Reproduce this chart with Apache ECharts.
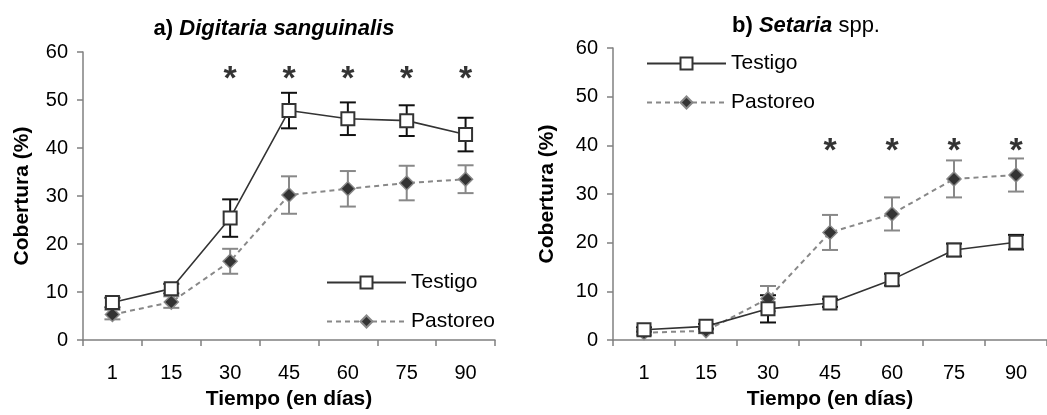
<!DOCTYPE html>
<html>
<head>
<meta charset="utf-8">
<script src="https://cdn.jsdelivr.net/npm/echarts@6/dist/echarts.min.js"></script>
<style>
html,body{margin:0;padding:0;background:#fff;}
#c{width:1047px;height:415px;}
</style>
</head>
<body>
<div id="c"></div>
<script>
// ---- data ----
const categories = ['1', '15', '30', '45', '60', '75', '90'];
const yTicks = [0, 10, 20, 30, 40, 50, 60];

const testigoA    = [7.8, 10.7, 25.4, 47.8, 46.1, 45.7, 42.8];
const testigoAErr = [1.0, 1.0, 3.9, 3.7, 3.4, 3.2, 3.5];
const pastoreoA    = [5.3, 7.9, 16.4, 30.2, 31.5, 32.7, 33.5];
const pastoreoAErr = [1.0, 1.2, 2.6, 3.9, 3.7, 3.6, 2.9];

const testigoB    = [2.1, 2.8, 6.4, 7.6, 12.4, 18.5, 20.1];
const testigoBErr = [0.5, 0.5, 2.8, 0.8, 1.2, 1.3, 1.5];
const pastoreoB    = [1.5, 1.9, 8.5, 22.1, 25.9, 33.1, 33.9];
const pastoreoBErr = [0.5, 0.5, 2.6, 3.6, 3.4, 3.8, 3.4];

const starsA = [null, null, 55.5, 55.5, 55.5, 55.5, 55.5];
const starsB = [null, null, null, 40, 40, 40, 40];

// ---- styles ----
const FONT = '"Liberation Sans", Arial, sans-serif';
const AXIS_GRAY = '#808080';

function errData(vals, errs) {
  return vals.map((v, i) => [i, v - errs[i], v + errs[i]]);
}
function errRender(color) {
  return function (params, api) {
    const i = api.value(0);
    const lo = api.coord([i, api.value(1)]);
    const hi = api.coord([i, api.value(2)]);
    const w = 8;
    const st = { stroke: color, lineWidth: 2 };
    return {
      type: 'group',
      children: [
        { type: 'line', shape: { x1: lo[0], y1: lo[1], x2: hi[0], y2: hi[1] }, style: st },
        { type: 'line', shape: { x1: lo[0] - w, y1: lo[1], x2: lo[0] + w, y2: lo[1] }, style: st },
        { type: 'line', shape: { x1: hi[0] - w, y1: hi[1], x2: hi[0] + w, y2: hi[1] }, style: st }
      ]
    };
  };
}

function xAxis(gi) {
  return {
    type: 'category', gridIndex: gi, data: categories, boundaryGap: true,
    name: 'Tiempo (en días)', nameLocation: 'middle', nameGap: 49,
    nameTextStyle: { fontFamily: FONT, fontSize: 21, fontWeight: 'bold', color: '#000' },
    axisLine: { lineStyle: { color: AXIS_GRAY, width: 1.5 } },
    axisTick: { show: true, length: 6, inside: false, lineStyle: { color: AXIS_GRAY, width: 1.5 } },
    axisLabel: { fontFamily: FONT, fontSize: 20, color: '#000', margin: 23 },
    splitLine: { show: false }
  };
}
function yAxis(gi, gap) {
  return {
    type: 'value', gridIndex: gi, min: yTicks[0], max: yTicks[yTicks.length - 1], interval: 10,
    name: 'Cobertura (%)', nameLocation: 'middle', nameGap: gap, nameRotate: 90,
    nameTextStyle: { fontFamily: FONT, fontSize: 21, fontWeight: 'bold', color: '#000' },
    axisLine: { show: true, lineStyle: { color: AXIS_GRAY, width: 1.5 } },
    axisTick: { show: true, length: 6, lineStyle: { color: AXIS_GRAY, width: 1.5 } },
    axisLabel: { fontFamily: FONT, fontSize: 20, color: '#000', margin: 15 },
    splitLine: { show: false }
  };
}

function testigoSeries(gi, vals) {
  return {
    name: 'Testigo', type: 'line', xAxisIndex: gi, yAxisIndex: gi, data: vals,
    symbol: 'rect', symbolSize: 13, z: 4,
    lineStyle: { color: '#333', width: 1.6, type: 'solid' },
    itemStyle: { color: '#ffffff', borderColor: '#333', borderWidth: 2 },
    emphasis: { disabled: true }
  };
}
function pastoreoSeries(gi, vals) {
  return {
    name: 'Pastoreo', type: 'line', xAxisIndex: gi, yAxisIndex: gi, data: vals,
    symbol: 'diamond', symbolSize: 14, z: 3,
    lineStyle: { color: '#888', width: 2, type: [5, 4] },
    itemStyle: { color: '#333', borderColor: '#888', borderWidth: 1.5 },
    emphasis: { disabled: true }
  };
}
function errSeries(gi, vals, errs, color, z) {
  return {
    type: 'custom', xAxisIndex: gi, yAxisIndex: gi, z: z,
    data: errData(vals, errs), renderItem: errRender(color),
    encode: { x: 0, y: [1, 2] }, silent: true
  };
}
function starSeries(gi, vals) {
  return {
    type: 'scatter', xAxisIndex: gi, yAxisIndex: gi, data: vals,
    symbolSize: 1, itemStyle: { color: 'rgba(0,0,0,0)' }, silent: true, z: 5,
    label: { show: true, position: 'inside', formatter: '*', fontFamily: FONT,
             fontSize: 34, fontWeight: 'bold', color: '#000', offset: [0, 6] }
  };
}

const legendCommon = {
  orient: 'vertical', itemWidth: 79, itemHeight: 15, itemGap: 18,
  data: ['Testigo', 'Pastoreo'], selectedMode: false,
  textStyle: { fontFamily: FONT, fontSize: 21, color: '#000' }
};

const chart = echarts.init(document.getElementById('c'), null, { renderer: 'canvas' });
chart.setOption({
  animation: false,
  backgroundColor: '#fff',
  title: [
    {
      text: '{b|a) }{bi|Digitaria sanguinalis}', left: 269, top: 13, textAlign: 'center',
      textStyle: { rich: {
        b: { fontFamily: FONT, fontSize: 22, fontWeight: 'bold', color: '#000' },
        bi: { fontFamily: FONT, fontSize: 22, fontWeight: 'bold', fontStyle: 'italic', color: '#000' }
      } }
    },
    {
      text: '{b|b) }{bi|Setaria}{n| spp.}', left: 801, top: 10, textAlign: 'center',
      textStyle: { rich: {
        b: { fontFamily: FONT, fontSize: 22, fontWeight: 'bold', color: '#000' },
        bi: { fontFamily: FONT, fontSize: 22, fontWeight: 'bold', fontStyle: 'italic', color: '#000' },
        n: { fontFamily: FONT, fontSize: 22, fontWeight: 'normal', color: '#000' }
      } }
    }
  ],
  legend: [
    Object.assign({ left: 321, top: 267 }, legendCommon),
    Object.assign({ left: 641, top: 48 }, legendCommon)
  ],
  grid: [
    { left: 83, top: 52, width: 412, height: 293, containLabel: false },
    { left: 613, top: 48, width: 441, height: 297, containLabel: false }
  ],
  xAxis: [xAxis(0), xAxis(1)],
  yAxis: [yAxis(0, 50), yAxis(1, 55)],
  series: [
    errSeries(0, pastoreoA, pastoreoAErr, '#888', 1),
    errSeries(0, testigoA, testigoAErr, '#111', 2),
    pastoreoSeries(0, pastoreoA),
    testigoSeries(0, testigoA),
    starSeries(0, starsA),
    errSeries(1, pastoreoB, pastoreoBErr, '#888', 1),
    errSeries(1, testigoB, testigoBErr, '#111', 2),
    pastoreoSeries(1, pastoreoB),
    testigoSeries(1, testigoB),
    starSeries(1, starsB)
  ]
});
</script>
</body>
</html>
